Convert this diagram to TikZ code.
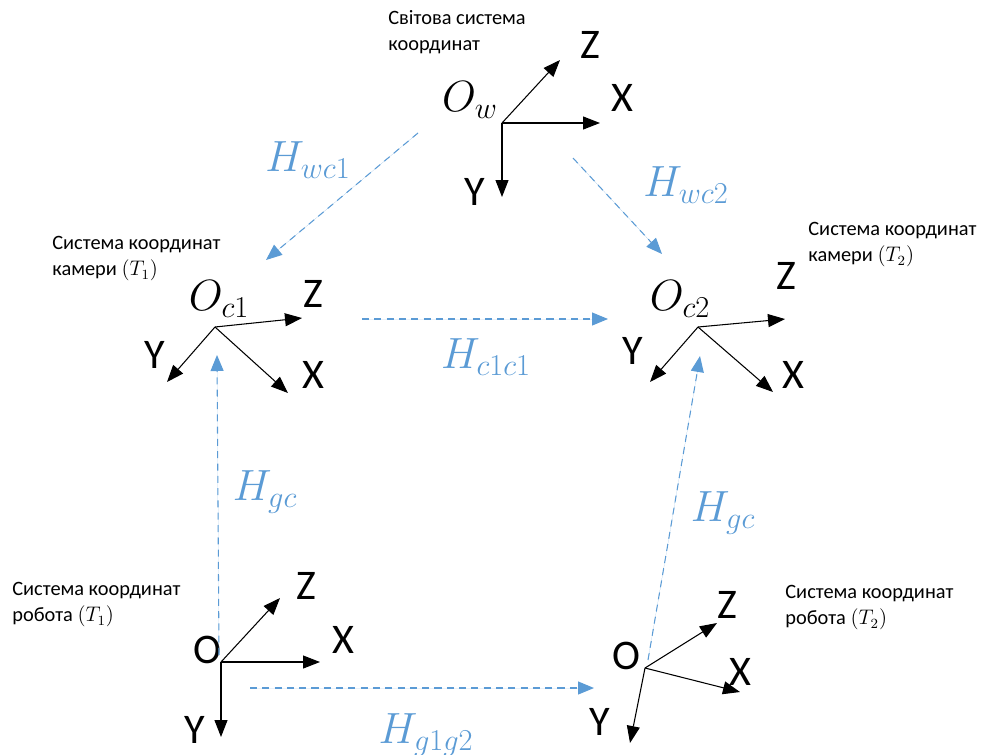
\documentclass[tikz,border=0pt]{standalone}
\usepackage{fontspec}
\setmainfont{Carlito}
\usetikzlibrary{arrows.meta}
\definecolor{hblue}{HTML}{5B9BD5}

\begin{document}
\begin{tikzpicture}[x=0.02cm,y=-0.02cm,
    axis/.style={-{Triangle[length=3.4mm,width=2.6mm]},line width=.6pt},
    trans/.style={-{Triangle[length=3.2mm,width=2.6mm]},draw=hblue,fill=hblue,
      dash pattern=on 4pt off 3pt,line width=.6pt},
    axlbl/.style={inner sep=0pt,font=\fontsize{24}{28}\selectfont},
    olbl/.style={inner sep=0pt,font=\fontsize{23}{27}\selectfont},
    hlbl/.style={inner sep=0pt,text=hblue,font=\fontsize{25}{29}\selectfont},
    caption/.style={align=left,anchor=north west,inner sep=0pt,
      font=\fontsize{11.6}{15}\selectfont}]
  \useasboundingbox (0,0) rectangle (1006,754);

  % world frame
  \coordinate (ow) at (502,123);
  \coordinate (owx) at (600,123);
  \coordinate (owz) at (560,60);
  \coordinate (owy) at (502,197);
  \draw[axis] (ow) -- (owx);
  \draw[axis] (ow) -- (owz);
  \draw[axis] (ow) -- (owy);
  \node[olbl] (owl) at (470,100) {$O_w$};
  \node[axlbl] (owxl) at (622,98) {X};
  \node[axlbl] (owzl) at (590,45) {Z};
  \node[axlbl] (owyl) at (475,192) {Y};
  \node[caption] (wtxt) at (388,10) {Світова система\\координат};

  % camera frame T1
  \coordinate (oc1) at (215,327);
  \coordinate (oc1z) at (302,318);
  \coordinate (oc1y) at (167,382);
  \coordinate (oc1x) at (288,393);
  \draw[axis] (oc1) -- (oc1z);
  \draw[axis] (oc1) -- (oc1y);
  \draw[axis] (oc1) -- (oc1x);
  \node[olbl] (oc1l) at (219,299) {$O_{c1}$};
  \node[axlbl] (oc1zl) at (313,294) {Z};
  \node[axlbl] (oc1yl) at (155,355) {Y};
  \node[axlbl] (oc1xl) at (313,375) {X};
  \node[caption] (c1txt) at (52,236) {Система координат\\камери $(T_1)$};

  % camera frame T2
  \coordinate (oc2) at (698,327);
  \coordinate (oc2z) at (785,319);
  \coordinate (oc2y) at (650,382);
  \coordinate (oc2x) at (773,392);
  \draw[axis] (oc2) -- (oc2z);
  \draw[axis] (oc2) -- (oc2y);
  \draw[axis] (oc2) -- (oc2x);
  \node[olbl] (oc2l) at (680,299) {$O_{c2}$};
  \node[axlbl] (oc2zl) at (786,276) {Z};
  \node[axlbl] (oc2yl) at (633,351) {Y};
  \node[axlbl] (oc2xl) at (793,375) {X};
  \node[caption] (c2txt) at (808,222) {Система координат\\камери $(T_2)$};

  % robot frame T1
  \coordinate (og1) at (221,662);
  \coordinate (og1x) at (320,662);
  \coordinate (og1z) at (280,598);
  \coordinate (og1y) at (221,737);
  \draw[axis] (og1) -- (og1x);
  \draw[axis] (og1) -- (og1z);
  \draw[axis] (og1) -- (og1y);
  \node[axlbl] (og1l) at (207,650) {O};
  \node[axlbl] (og1zl) at (306,586) {Z};
  \node[axlbl] (og1xl) at (343,640) {X};
  \node[axlbl] (og1yl) at (195,730) {Y};
  \node[caption] (g1txt) at (12,582) {Система координат\\робота $(T_1)$};

  % robot frame T2
  \coordinate (og2) at (645,668);
  \coordinate (og2z) at (717,623);
  \coordinate (og2x) at (740,692);
  \coordinate (og2y) at (630,743);
  \draw[axis] (og2) -- (og2z);
  \draw[axis] (og2) -- (og2x);
  \draw[axis] (og2) -- (og2y);
  \node[axlbl] (og2l) at (626,656) {O};
  \node[axlbl] (og2zl) at (727,605) {Z};
  \node[axlbl] (og2xl) at (740,672) {X};
  \node[axlbl] (og2yl) at (600,722) {Y};
  \node[caption] (g2txt) at (785,585) {Система координат\\робота $(T_2)$};

  % transformations
  \coordinate (wc1a) at (418,133);
  \coordinate (wc1b) at (266,260);
  \coordinate (wc2a) at (573,158);
  \coordinate (wc2b) at (662,254);
  \coordinate (c1c2a) at (362,319);
  \coordinate (c1c2b) at (608,319);
  \coordinate (gc1a) at (219,655);
  \coordinate (gc1b) at (217,355);
  \coordinate (gc2a) at (648,660);
  \coordinate (gc2b) at (700,356);
  \coordinate (g1g2a) at (250,688);
  \coordinate (g1g2b) at (594,688);
  \draw[trans] (wc1a) -- (wc1b);
  \draw[trans] (wc2a) -- (wc2b);
  \draw[trans] (c1c2a) -- (c1c2b);
  \draw[trans] (gc1a) -- (gc1b);
  \draw[trans] (gc2a) -- (gc2b);
  \draw[trans] (g1g2a) -- (g1g2b);
  \node[hlbl] (hwc1) at (308,160) {$H_{wc1}$};
  \node[hlbl] (hwc2) at (686,185) {$H_{wc2}$};
  \node[hlbl] (hc1c1) at (486,357) {$H_{c1c1}$};
  \node[hlbl] (hgc1) at (265,492) {$H_{gc}$};
  \node[hlbl] (hgc2) at (723,513) {$H_{gc}$};
  \node[hlbl] (hg1g2) at (426,735) {$H_{g1g2}$};
\end{tikzpicture}
\end{document}
